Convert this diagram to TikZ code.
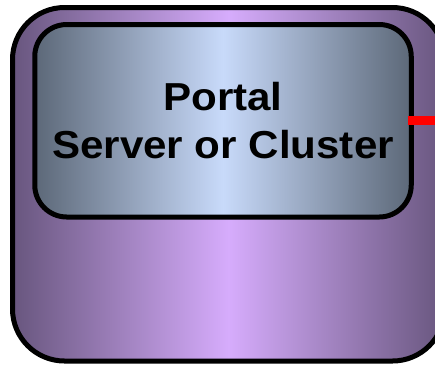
\documentclass[tikz,border=0pt]{standalone}
\usepackage{fontspec}
\newfontfamily\portalfont{Liberation Sans}[FakeStretch=1.08]
\usetikzlibrary{positioning}
\usepackage{xcolor}
\definecolor{purpleedge}{RGB}{104,86,126}
\definecolor{purplemid}{RGB}{214,172,252}
\definecolor{slateedge}{RGB}{92,104,120}
\definecolor{slatemid}{RGB}{200,218,250}

\begin{document}
\begin{tikzpicture}[x=1pt,y=-1pt]

		\tikzstyle{container} = [rectangle, draw, line width=5pt, rounded corners=52pt,
		left color=purpleedge, right color=purpleedge, middle color=purplemid]
		\tikzstyle{block} = [rectangle, draw, line width=5pt, rounded corners=32pt,
		left color=slateedge, right color=slateedge, middle color=slatemid,
		align=center, font=\portalfont\bfseries\fontsize{39}{48}\selectfont]
		\tikzstyle{link} = [draw, red, line width=9pt]

		\useasboundingbox (0,0) rectangle (435,368);
		\clip (0,0) rectangle (435,368);

		% outer box
		\node [container,minimum width=432pt,minimum height=353.5pt] (cluster) at (228.5,184.25) {};

		% portal box
		\node [block,minimum width=376.5pt,minimum height=192.5pt,below=17pt of cluster.north,xshift=-5.5pt] (portal) {Portal\\Server or Cluster};

		% link
		\coordinate (linkend) at (445,120.75);
		\draw [link] ([xshift=-6pt]portal.east) -- (linkend);

\end{tikzpicture}
\end{document}
